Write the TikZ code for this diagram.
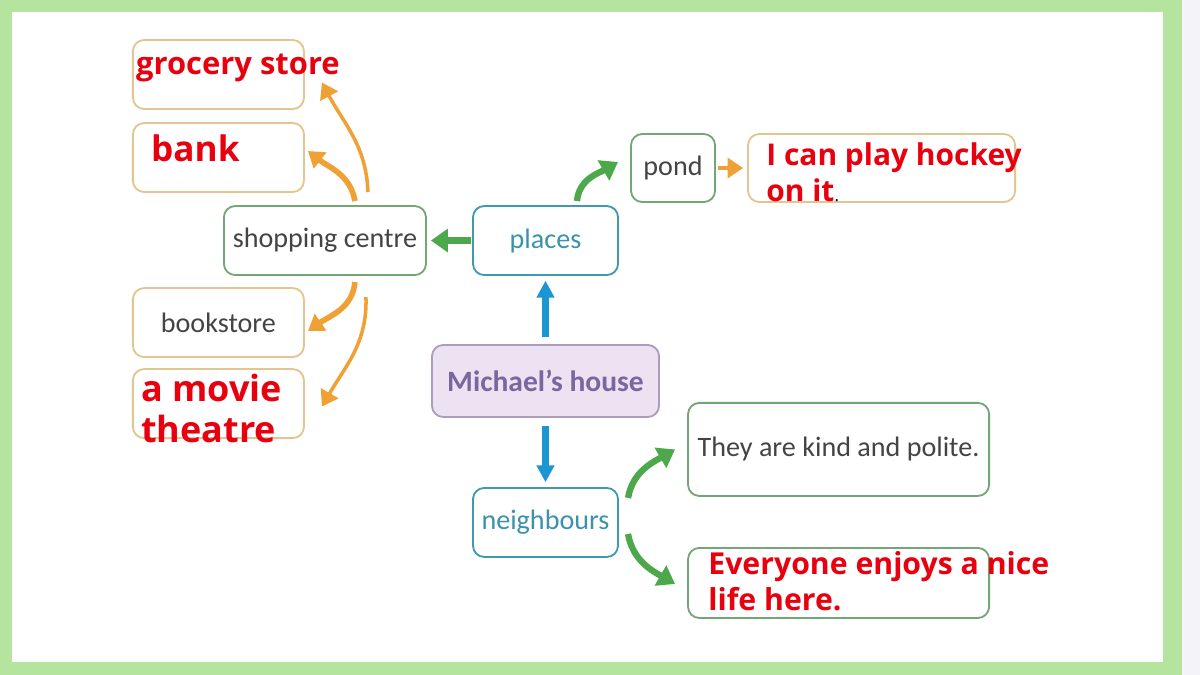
\documentclass[tikz,border=0pt]{standalone}
\usepackage{fontspec}
\setmainfont{Carlito}
\newfontfamily\boldsans{Open Sans}
\usepackage{tikz}
\usetikzlibrary{positioning,arrows.meta}

\definecolor{framegreen}{HTML}{B4E49E}
\definecolor{lavbg}{HTML}{F4F3FA}
\definecolor{boxorange}{HTML}{E3C58F}
\definecolor{boxgreen}{HTML}{74A577}
\definecolor{boxteal}{HTML}{3F9AB0}
\definecolor{mhfill}{HTML}{ECE2F2}
\definecolor{mhborder}{HTML}{AC9CBE}
\definecolor{mhtext}{HTML}{7A67A0}
\definecolor{graytext}{HTML}{444444}
\definecolor{tealtext}{HTML}{3A93AA}
\definecolor{redtext}{HTML}{E8000F}
\definecolor{arrgreen}{HTML}{4CA84A}
\definecolor{arrorange}{HTML}{F0A136}
\definecolor{arrblue}{HTML}{1C95D3}

\begin{document}
\begin{tikzpicture}[x=0.025cm, y=0.025cm,
	box/.style={rectangle, rounded corners=8pt, line width=1.3pt, inner sep=0pt, outer sep=0pt, text=graytext, font=\fontsize{20}{24}\selectfont},
	leftbox/.style={box, draw=boxorange, minimum width=4.275cm, minimum height=1.725cm},
	greenbox/.style={box, draw=boxgreen},
	tealbox/.style={box, draw=boxteal, text=tealtext, minimum width=3.625cm, minimum height=1.725cm},
	redtxt/.style={inner sep=0pt, anchor=base west, align=left, text=redtext, font=\boldsans\bfseries\fontsize{21.3}{25}\selectfont},
	greenline/.style={draw=arrgreen, line width=4.5pt, -{Triangle[width=16pt,length=12pt]}},
	orangeline/.style={draw=arrorange, -{Triangle[width=14pt,length=11pt]}},
	blueline/.style={draw=arrblue, line width=5pt, -{Triangle[width=12pt,length=12pt]}}]

	\useasboundingbox (0,0) rectangle (1200,675);
	\fill[lavbg] (0,0) rectangle (1200,675);
	\fill[framegreen] (0,0) rectangle (1182,675);
	\fill[white] (12,13) rectangle (1163,663);

	\node (michael) [rectangle, rounded corners=8pt, line width=1.3pt, draw=mhborder, fill=mhfill, text=mhtext, minimum width=5.675cm, minimum height=1.8cm, inner sep=0pt, font=\bfseries\fontsize{21}{24}\selectfont] at (545.5,294) {Michael’s house};
	\node (places) [tealbox, above=1.725cm of michael] {places};
	\node (neighbours) [tealbox, below=1.75cm of michael] {neighbours};
	\node (shopping) [greenbox, minimum width=5.05cm, minimum height=1.725cm, left=1.175cm of places] {shopping centre};
	\node (pond) [greenbox, minimum width=2.1cm, minimum height=1.7cm, above right=0.1cm and 0.325cm of places] {pond};
	\node (hockey) [box, draw=boxorange, minimum width=6.675cm, minimum height=1.7cm, right=0.825cm of pond] {};
	\node (kind) [greenbox, minimum width=7.525cm, minimum height=2.325cm, right=1.75cm of neighbours, yshift=1.825cm] {They are kind and polite.};
	\node (everyone) [greenbox, minimum width=7.525cm, minimum height=1.75cm, below=1.3cm of kind] {};
	\node (bank) [leftbox, above=0.35cm of shopping.north west, anchor=south east, xshift=2cm] {};
	\node (grocery) [leftbox, above=0.35cm of bank] {};
	\node (bookstore) [leftbox, below=0.325cm of shopping.south west, anchor=north east, xshift=2cm] {bookstore};
	\node (movie) [leftbox, below=0.3cm of bookstore] {};

	\node (grocerytxt) [redtxt, font=\boldsans\bfseries\fontsize{22}{26}\selectfont] at ([shift={(3,-35)}]grocery.north west) {grocery store};
	\node (banktxt) [redtxt, font=\boldsans\bfseries\fontsize{25}{29}\selectfont] at ([shift={(18,-38)}]bank.north west) {bank};
	\node (movietxt) [redtxt, font=\boldsans\bfseries\fontsize{25.6}{29}\selectfont] at ([shift={(8,-73)}]movie.north west) {a movie\\theatre};
	\node (hockeytxt) [redtxt] at ([shift={(18,-67)}]hockey.north west) {I can play hockey\\on it{\color{black}\fontsize{12}{14}\selectfont\mdseries.}};
	\node (everyonetxt) [redtxt, font=\boldsans\bfseries\fontsize{21.5}{25.6}\selectfont] at ([shift={(20,-63)}]everyone.north west) {Everyone enjoys a nice\\life here.};

	\draw [blueline, shorten <=5pt, shorten >=4pt] (michael.north) -- (places.south);
	\draw [blueline, shorten <=5.5pt, shorten >=4pt] (michael.south) -- (neighbours.north);
	\draw [greenline, line width=5pt, shorten <=1.5pt, shorten >=3.5pt] (places.west) -- (shopping.east);
	\draw [greenline] ([shift={(31.5,5)}]places.north) to[out=85, in=210] ([shift={(-13,6)}]pond.west);
	\draw [orangeline, line width=3.5pt, shorten <=2pt, shorten >=3.5pt] (pond.east) -- (hockey.west);
	\draw [greenline] ([shift={(10,-10)}]neighbours.north east) to[out=80, in=210] ([shift={(-13,0)}]kind.west);
	\draw [greenline] ([shift={(10,23)}]neighbours.south east) to[out=-80, in=150] ([shift={(-13,-1)}]everyone.west);
	\draw [orangeline, line width=4pt] ([shift={(30,5)}]shopping.north) to[out=100, in=-38] ([shift={(4,6.5)}]bank.east);
	\draw [orangeline, line width=2.5pt] ([shift={(43,14)}]shopping.north) to[out=92, in=-62] ([shift={(18,-8)}]grocery.east);
	\draw [orangeline, line width=4pt] ([shift={(30,-7)}]shopping.south) to[out=-95, in=35] ([shift={(4,-8.5)}]bookstore.east);
	\draw [orangeline, line width=2.5pt] ([shift={(41,-22)}]shopping.south) to[out=-88, in=60] ([shift={(18,-3)}]movie.east);
\end{tikzpicture}
\end{document}
